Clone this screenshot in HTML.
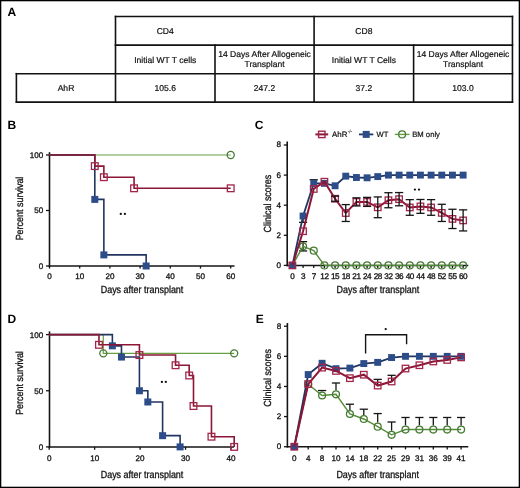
<!DOCTYPE html>
<html><head><meta charset="utf-8"><style>
html,body{margin:0;padding:0;background:#fff;}
svg{display:block;font-family:"Liberation Sans", sans-serif;text-rendering:geometricPrecision;}
.wrap{will-change:transform;width:520px;height:488px;}
</style></head><body>
<div class="wrap"><svg width="520" height="488" viewBox="0 0 520 488">
<rect x="0" y="0" width="520" height="488" fill="#fff"/>
<rect x="0.6" y="0.6" width="518.8" height="486.8" fill="none" stroke="#000" stroke-width="1.4"/>
<text x="7.5" y="15.6" font-size="12" text-anchor="start" font-weight="bold" fill="#000" stroke="#000" stroke-width="0" >A</text>
<line x1="115.5" y1="16.5" x2="512.45" y2="16.5" stroke="#111" stroke-width="1.6" stroke-linecap="square"/>
<line x1="115.5" y1="45.15" x2="512.45" y2="45.15" stroke="#111" stroke-width="1.6" stroke-linecap="square"/>
<line x1="16.4" y1="73.7" x2="512.45" y2="73.7" stroke="#111" stroke-width="1.6" stroke-linecap="square"/>
<line x1="16.4" y1="102.1" x2="512.45" y2="102.1" stroke="#111" stroke-width="1.6" stroke-linecap="square"/>
<line x1="16.4" y1="73.7" x2="16.4" y2="102.1" stroke="#111" stroke-width="1.6" stroke-linecap="square"/>
<line x1="115.5" y1="16.5" x2="115.5" y2="102.1" stroke="#111" stroke-width="1.6" stroke-linecap="square"/>
<line x1="215" y1="45.15" x2="215" y2="102.1" stroke="#111" stroke-width="1.6" stroke-linecap="square"/>
<line x1="314.1" y1="16.5" x2="314.1" y2="102.1" stroke="#111" stroke-width="1.6" stroke-linecap="square"/>
<line x1="413.6" y1="45.15" x2="413.6" y2="102.1" stroke="#111" stroke-width="1.6" stroke-linecap="square"/>
<line x1="512.45" y1="16.5" x2="512.45" y2="102.1" stroke="#111" stroke-width="1.6" stroke-linecap="square"/>
<text x="165.25" y="33.8" font-size="8.55" text-anchor="middle" font-weight="normal" fill="#111" stroke="#111" stroke-width="0.2" >CD4</text>
<text x="363.85" y="33.8" font-size="8.55" text-anchor="middle" font-weight="normal" fill="#111" stroke="#111" stroke-width="0.2" >CD8</text>
<text x="165.25" y="62.6" font-size="8.55" text-anchor="middle" font-weight="normal" fill="#111" stroke="#111" stroke-width="0.2" >Initial WT T cells</text>
<text x="363.85" y="62.6" font-size="8.55" text-anchor="middle" font-weight="normal" fill="#111" stroke="#111" stroke-width="0.2" >Initial WT T Cells</text>
<text x="264.55" y="56.9" font-size="8.55" text-anchor="middle" font-weight="normal" fill="#111" stroke="#111" stroke-width="0.2" >14 Days After Allogeneic</text>
<text x="264.55" y="66.7" font-size="8.55" text-anchor="middle" font-weight="normal" fill="#111" stroke="#111" stroke-width="0.2" >Transplant</text>
<text x="463.02500000000003" y="56.9" font-size="8.55" text-anchor="middle" font-weight="normal" fill="#111" stroke="#111" stroke-width="0.2" >14 Days After Allogeneic</text>
<text x="463.02500000000003" y="66.7" font-size="8.55" text-anchor="middle" font-weight="normal" fill="#111" stroke="#111" stroke-width="0.2" >Transplant</text>
<text x="66" y="91.3" font-size="8.55" text-anchor="middle" font-weight="normal" fill="#111" stroke="#111" stroke-width="0.2" >AhR</text>
<text x="165.25" y="91.3" font-size="8.55" text-anchor="middle" font-weight="normal" fill="#111" stroke="#111" stroke-width="0.2" >105.6</text>
<text x="264.55" y="91.3" font-size="8.55" text-anchor="middle" font-weight="normal" fill="#111" stroke="#111" stroke-width="0.2" >247.2</text>
<text x="363.85" y="91.3" font-size="8.55" text-anchor="middle" font-weight="normal" fill="#111" stroke="#111" stroke-width="0.2" >37.2</text>
<text x="463.02500000000003" y="91.3" font-size="8.55" text-anchor="middle" font-weight="normal" fill="#111" stroke="#111" stroke-width="0.2" >103.0</text>
<text x="7.5" y="128.7" font-size="12" text-anchor="start" font-weight="bold" fill="#000" stroke="#000" stroke-width="0" >B</text>
<line x1="49.5" y1="152.2" x2="49.5" y2="266.8" stroke="#151515" stroke-width="1.6"/>
<line x1="48.7" y1="266" x2="234.5" y2="266" stroke="#151515" stroke-width="1.6"/>
<line x1="46" y1="155.0" x2="49.5" y2="155.0" stroke="#151515" stroke-width="1.3"/>
<text x="43.3" y="157.9" font-size="8.1" text-anchor="end" font-weight="normal" fill="#111" stroke="#111" stroke-width="0.3" >100</text>
<line x1="46" y1="210.5" x2="49.5" y2="210.5" stroke="#151515" stroke-width="1.3"/>
<text x="43.3" y="213.4" font-size="8.1" text-anchor="end" font-weight="normal" fill="#111" stroke="#111" stroke-width="0.3" >50</text>
<line x1="46" y1="266.0" x2="49.5" y2="266.0" stroke="#151515" stroke-width="1.3"/>
<text x="43.3" y="268.9" font-size="8.1" text-anchor="end" font-weight="normal" fill="#111" stroke="#111" stroke-width="0.3" >0</text>
<line x1="49.5" y1="266" x2="49.5" y2="268.6" stroke="#151515" stroke-width="1.3"/>
<text x="49.5" y="279.2" font-size="8.1" text-anchor="middle" font-weight="normal" fill="#111" stroke="#111" stroke-width="0.3" >0</text>
<line x1="79.7" y1="266" x2="79.7" y2="268.6" stroke="#151515" stroke-width="1.3"/>
<text x="79.7" y="279.2" font-size="8.1" text-anchor="middle" font-weight="normal" fill="#111" stroke="#111" stroke-width="0.3" >10</text>
<line x1="109.9" y1="266" x2="109.9" y2="268.6" stroke="#151515" stroke-width="1.3"/>
<text x="109.9" y="279.2" font-size="8.1" text-anchor="middle" font-weight="normal" fill="#111" stroke="#111" stroke-width="0.3" >20</text>
<line x1="140.1" y1="266" x2="140.1" y2="268.6" stroke="#151515" stroke-width="1.3"/>
<text x="140.1" y="279.2" font-size="8.1" text-anchor="middle" font-weight="normal" fill="#111" stroke="#111" stroke-width="0.3" >30</text>
<line x1="170.3" y1="266" x2="170.3" y2="268.6" stroke="#151515" stroke-width="1.3"/>
<text x="170.3" y="279.2" font-size="8.1" text-anchor="middle" font-weight="normal" fill="#111" stroke="#111" stroke-width="0.3" >40</text>
<line x1="200.5" y1="266" x2="200.5" y2="268.6" stroke="#151515" stroke-width="1.3"/>
<text x="200.5" y="279.2" font-size="8.1" text-anchor="middle" font-weight="normal" fill="#111" stroke="#111" stroke-width="0.3" >50</text>
<line x1="230.7" y1="266" x2="230.7" y2="268.6" stroke="#151515" stroke-width="1.3"/>
<text x="230.7" y="279.2" font-size="8.1" text-anchor="middle" font-weight="normal" fill="#111" stroke="#111" stroke-width="0.3" >60</text>
<text x="0" y="0" font-size="10.3" text-anchor="middle" fill="#111" stroke="#111" stroke-width="0.3" transform="translate(142,293.2) scale(0.87,1)">Days after transplant</text>
<text x="0" y="0" font-size="10.3" text-anchor="middle" fill="#111" stroke="#111" stroke-width="0.3" transform="translate(23.3,208.5) rotate(-90) scale(0.87,1)">Percent survival</text>
<polyline points="49.50,155.00 230.70,155.00" fill="none" stroke="#66a040" stroke-width="1.2" stroke-linejoin="miter"/>
<circle cx="230.70" cy="155.00" r="3.55" fill="none" stroke="#457a32" stroke-width="1.3"/>
<polyline points="49.50,155.00 94.80,155.00 94.80,199.40 103.86,199.40 103.86,254.90 146.14,254.90 146.14,266.00" fill="none" stroke="#203560" stroke-width="1.6" stroke-linejoin="miter"/>
<rect x="91.30" y="195.90" width="7" height="7" fill="#2d4d8a"/>
<rect x="100.36" y="251.40" width="7" height="7" fill="#2d4d8a"/>
<rect x="142.64" y="262.50" width="7" height="7" fill="#2d4d8a"/>
<polyline points="49.50,155.00 94.80,155.00 94.80,166.10 103.86,166.10 103.86,177.20 134.06,177.20 134.06,188.30 230.70,188.30" fill="none" stroke="#8c1636" stroke-width="1.6" stroke-linejoin="miter"/>
<rect x="91.45" y="162.75" width="6.70" height="6.70" fill="none" stroke="#a2264a" stroke-width="1.3"/>
<rect x="100.51" y="173.85" width="6.70" height="6.70" fill="none" stroke="#a2264a" stroke-width="1.3"/>
<rect x="130.71" y="184.95" width="6.70" height="6.70" fill="none" stroke="#a2264a" stroke-width="1.3"/>
<rect x="227.35" y="184.95" width="6.70" height="6.70" fill="none" stroke="#a2264a" stroke-width="1.3"/>
<circle cx="120.8" cy="213.9" r="1.15" fill="#111"/>
<circle cx="124.9" cy="213.9" r="1.15" fill="#111"/>
<text x="254.8" y="128.7" font-size="12" text-anchor="start" font-weight="bold" fill="#000" stroke="#000" stroke-width="0" >C</text>
<line x1="287.2" y1="141.5" x2="287.2" y2="266.2" stroke="#151515" stroke-width="1.6"/>
<line x1="286.4" y1="265.5" x2="468.3" y2="265.5" stroke="#151515" stroke-width="1.6"/>
<line x1="283.8" y1="265.4" x2="287.2" y2="265.4" stroke="#151515" stroke-width="1.3"/>
<text x="281" y="267.79999999999995" font-size="8.1" text-anchor="end" font-weight="normal" fill="#111" stroke="#111" stroke-width="0.3" >0</text>
<line x1="283.8" y1="235.29999999999998" x2="287.2" y2="235.29999999999998" stroke="#151515" stroke-width="1.3"/>
<text x="281" y="237.7" font-size="8.1" text-anchor="end" font-weight="normal" fill="#111" stroke="#111" stroke-width="0.3" >2</text>
<line x1="283.8" y1="205.2" x2="287.2" y2="205.2" stroke="#151515" stroke-width="1.3"/>
<text x="281" y="207.6" font-size="8.1" text-anchor="end" font-weight="normal" fill="#111" stroke="#111" stroke-width="0.3" >4</text>
<line x1="283.8" y1="175.09999999999997" x2="287.2" y2="175.09999999999997" stroke="#151515" stroke-width="1.3"/>
<text x="281" y="177.49999999999997" font-size="8.1" text-anchor="end" font-weight="normal" fill="#111" stroke="#111" stroke-width="0.3" >6</text>
<line x1="283.8" y1="144.99999999999997" x2="287.2" y2="144.99999999999997" stroke="#151515" stroke-width="1.3"/>
<text x="281" y="147.39999999999998" font-size="8.1" text-anchor="end" font-weight="normal" fill="#111" stroke="#111" stroke-width="0.3" >8</text>
<line x1="292.4" y1="265.4" x2="292.4" y2="268" stroke="#151515" stroke-width="1.3"/>
<text x="292.4" y="279.2" font-size="8.2" text-anchor="middle" font-weight="normal" fill="#111" stroke="#111" stroke-width="0.3" letter-spacing="-0.45">0</text>
<line x1="303.07" y1="265.4" x2="303.07" y2="268" stroke="#151515" stroke-width="1.3"/>
<text x="303.07" y="279.2" font-size="8.2" text-anchor="middle" font-weight="normal" fill="#111" stroke="#111" stroke-width="0.3" letter-spacing="-0.45">3</text>
<line x1="313.73999999999995" y1="265.4" x2="313.73999999999995" y2="268" stroke="#151515" stroke-width="1.3"/>
<text x="313.73999999999995" y="279.2" font-size="8.2" text-anchor="middle" font-weight="normal" fill="#111" stroke="#111" stroke-width="0.3" letter-spacing="-0.45">7</text>
<line x1="324.40999999999997" y1="265.4" x2="324.40999999999997" y2="268" stroke="#151515" stroke-width="1.3"/>
<text x="324.40999999999997" y="279.2" font-size="8.2" text-anchor="middle" font-weight="normal" fill="#111" stroke="#111" stroke-width="0.3" letter-spacing="-0.45">12</text>
<line x1="335.08" y1="265.4" x2="335.08" y2="268" stroke="#151515" stroke-width="1.3"/>
<text x="335.08" y="279.2" font-size="8.2" text-anchor="middle" font-weight="normal" fill="#111" stroke="#111" stroke-width="0.3" letter-spacing="-0.45">15</text>
<line x1="345.75" y1="265.4" x2="345.75" y2="268" stroke="#151515" stroke-width="1.3"/>
<text x="345.75" y="279.2" font-size="8.2" text-anchor="middle" font-weight="normal" fill="#111" stroke="#111" stroke-width="0.3" letter-spacing="-0.45">18</text>
<line x1="356.41999999999996" y1="265.4" x2="356.41999999999996" y2="268" stroke="#151515" stroke-width="1.3"/>
<text x="356.41999999999996" y="279.2" font-size="8.2" text-anchor="middle" font-weight="normal" fill="#111" stroke="#111" stroke-width="0.3" letter-spacing="-0.45">21</text>
<line x1="367.09" y1="265.4" x2="367.09" y2="268" stroke="#151515" stroke-width="1.3"/>
<text x="367.09" y="279.2" font-size="8.2" text-anchor="middle" font-weight="normal" fill="#111" stroke="#111" stroke-width="0.3" letter-spacing="-0.45">24</text>
<line x1="377.76" y1="265.4" x2="377.76" y2="268" stroke="#151515" stroke-width="1.3"/>
<text x="377.76" y="279.2" font-size="8.2" text-anchor="middle" font-weight="normal" fill="#111" stroke="#111" stroke-width="0.3" letter-spacing="-0.45">28</text>
<line x1="388.42999999999995" y1="265.4" x2="388.42999999999995" y2="268" stroke="#151515" stroke-width="1.3"/>
<text x="388.42999999999995" y="279.2" font-size="8.2" text-anchor="middle" font-weight="normal" fill="#111" stroke="#111" stroke-width="0.3" letter-spacing="-0.45">32</text>
<line x1="399.09999999999997" y1="265.4" x2="399.09999999999997" y2="268" stroke="#151515" stroke-width="1.3"/>
<text x="399.09999999999997" y="279.2" font-size="8.2" text-anchor="middle" font-weight="normal" fill="#111" stroke="#111" stroke-width="0.3" letter-spacing="-0.45">36</text>
<line x1="409.77" y1="265.4" x2="409.77" y2="268" stroke="#151515" stroke-width="1.3"/>
<text x="409.77" y="279.2" font-size="8.2" text-anchor="middle" font-weight="normal" fill="#111" stroke="#111" stroke-width="0.3" letter-spacing="-0.45">40</text>
<line x1="420.43999999999994" y1="265.4" x2="420.43999999999994" y2="268" stroke="#151515" stroke-width="1.3"/>
<text x="420.43999999999994" y="279.2" font-size="8.2" text-anchor="middle" font-weight="normal" fill="#111" stroke="#111" stroke-width="0.3" letter-spacing="-0.45">44</text>
<line x1="431.11" y1="265.4" x2="431.11" y2="268" stroke="#151515" stroke-width="1.3"/>
<text x="431.11" y="279.2" font-size="8.2" text-anchor="middle" font-weight="normal" fill="#111" stroke="#111" stroke-width="0.3" letter-spacing="-0.45">48</text>
<line x1="441.78" y1="265.4" x2="441.78" y2="268" stroke="#151515" stroke-width="1.3"/>
<text x="441.78" y="279.2" font-size="8.2" text-anchor="middle" font-weight="normal" fill="#111" stroke="#111" stroke-width="0.3" letter-spacing="-0.45">52</text>
<line x1="452.45" y1="265.4" x2="452.45" y2="268" stroke="#151515" stroke-width="1.3"/>
<text x="452.45" y="279.2" font-size="8.2" text-anchor="middle" font-weight="normal" fill="#111" stroke="#111" stroke-width="0.3" letter-spacing="-0.45">55</text>
<line x1="463.12" y1="265.4" x2="463.12" y2="268" stroke="#151515" stroke-width="1.3"/>
<text x="463.12" y="279.2" font-size="8.2" text-anchor="middle" font-weight="normal" fill="#111" stroke="#111" stroke-width="0.3" letter-spacing="-0.45">60</text>
<text x="0" y="0" font-size="10.3" text-anchor="middle" fill="#111" stroke="#111" stroke-width="0.3" transform="translate(377.8,293.2) scale(0.87,1)">Days after transplant</text>
<text x="0" y="0" font-size="10.3" text-anchor="middle" fill="#111" stroke="#111" stroke-width="0.3" transform="translate(270.6,203.6) rotate(-90) scale(0.87,1)">Clinical scores</text>
<line x1="315.4" y1="134.4" x2="328.2" y2="134.4" stroke="#8c1636" stroke-width="2"/>
<rect x="318.60" y="131.20" width="6.40" height="6.40" fill="none" stroke="#a2264a" stroke-width="1.4"/>
<text x="332" y="137" font-size="7.9" text-anchor="start" font-weight="normal" fill="#111" stroke="#111" stroke-width="0.2" >AhR</text>
<text x="347.8" y="133.2" font-size="4.6" text-anchor="start" font-weight="normal" fill="#555" stroke="#555" stroke-width="0.2" >-/-</text>
<line x1="359" y1="134.4" x2="373.3" y2="134.4" stroke="#203560" stroke-width="1.8"/>
<rect x="362.70" y="130.90" width="7" height="7" fill="#2d4d8a"/>
<text x="376.6" y="137" font-size="7.6" text-anchor="start" font-weight="normal" fill="#111" stroke="#111" stroke-width="0.2" >WT</text>
<line x1="394.8" y1="134.4" x2="409.5" y2="134.4" stroke="#66a040" stroke-width="1.4"/>
<circle cx="402.10" cy="134.40" r="3.45" fill="none" stroke="#457a32" stroke-width="1.3"/>
<text x="412.2" y="137" font-size="7.7" text-anchor="start" font-weight="normal" fill="#111" stroke="#111" stroke-width="0.2" >BM only</text>
<line x1="303.07" y1="241.62099999999998" x2="303.07" y2="250.952" stroke="#151515" stroke-width="1.3"/>
<line x1="298.96999999999997" y1="241.62099999999998" x2="307.17" y2="241.62099999999998" stroke="#151515" stroke-width="1.3"/>
<line x1="298.96999999999997" y1="250.952" x2="307.17" y2="250.952" stroke="#151515" stroke-width="1.3"/>
<polyline points="292.40,265.40 303.07,246.29 313.74,250.65 324.41,265.40 335.08,265.40 345.75,265.40 356.42,265.40 367.09,265.40 377.76,265.40 388.43,265.40 399.10,265.40 409.77,265.40 420.44,265.40 431.11,265.40 441.78,265.40 452.45,265.40 463.12,265.40" fill="none" stroke="#548c38" stroke-width="1.4" stroke-linejoin="miter"/>
<circle cx="303.07" cy="246.29" r="3.45" fill="none" stroke="#457a32" stroke-width="1.3"/>
<circle cx="313.74" cy="250.65" r="3.45" fill="none" stroke="#457a32" stroke-width="1.3"/>
<circle cx="324.41" cy="265.40" r="3.45" fill="none" stroke="#457a32" stroke-width="1.3"/>
<circle cx="335.08" cy="265.40" r="3.45" fill="none" stroke="#457a32" stroke-width="1.3"/>
<circle cx="345.75" cy="265.40" r="3.45" fill="none" stroke="#457a32" stroke-width="1.3"/>
<circle cx="356.42" cy="265.40" r="3.45" fill="none" stroke="#457a32" stroke-width="1.3"/>
<circle cx="367.09" cy="265.40" r="3.45" fill="none" stroke="#457a32" stroke-width="1.3"/>
<circle cx="377.76" cy="265.40" r="3.45" fill="none" stroke="#457a32" stroke-width="1.3"/>
<circle cx="388.43" cy="265.40" r="3.45" fill="none" stroke="#457a32" stroke-width="1.3"/>
<circle cx="399.10" cy="265.40" r="3.45" fill="none" stroke="#457a32" stroke-width="1.3"/>
<circle cx="409.77" cy="265.40" r="3.45" fill="none" stroke="#457a32" stroke-width="1.3"/>
<circle cx="420.44" cy="265.40" r="3.45" fill="none" stroke="#457a32" stroke-width="1.3"/>
<circle cx="431.11" cy="265.40" r="3.45" fill="none" stroke="#457a32" stroke-width="1.3"/>
<circle cx="441.78" cy="265.40" r="3.45" fill="none" stroke="#457a32" stroke-width="1.3"/>
<circle cx="452.45" cy="265.40" r="3.45" fill="none" stroke="#457a32" stroke-width="1.3"/>
<circle cx="463.12" cy="265.40" r="3.45" fill="none" stroke="#457a32" stroke-width="1.3"/>
<line x1="303.07" y1="216.03599999999997" x2="303.07" y2="222.35699999999997" stroke="#151515" stroke-width="1.3"/>
<line x1="298.96999999999997" y1="222.35699999999997" x2="307.17" y2="222.35699999999997" stroke="#151515" stroke-width="1.3"/>
<line x1="313.73999999999995" y1="179.76549999999997" x2="313.73999999999995" y2="183.37749999999997" stroke="#151515" stroke-width="1.3"/>
<line x1="309.63999999999993" y1="179.76549999999997" x2="317.84" y2="179.76549999999997" stroke="#151515" stroke-width="1.3"/>
<polyline points="292.40,265.40 303.07,216.04 313.74,183.38 324.41,183.38 335.08,185.79 345.75,176.15 356.42,177.51 367.09,177.81 377.76,176.60 388.43,175.10 399.10,175.10 409.77,175.10 420.44,175.10 431.11,175.10 441.78,175.10 452.45,175.10 463.12,175.10" fill="none" stroke="#203560" stroke-width="1.8" stroke-linejoin="miter"/>
<rect x="288.95" y="261.95" width="6.9" height="6.9" fill="#2d4d8a"/>
<rect x="299.62" y="212.59" width="6.9" height="6.9" fill="#2d4d8a"/>
<rect x="310.29" y="179.93" width="6.9" height="6.9" fill="#2d4d8a"/>
<rect x="320.96" y="179.93" width="6.9" height="6.9" fill="#2d4d8a"/>
<rect x="331.63" y="182.34" width="6.9" height="6.9" fill="#2d4d8a"/>
<rect x="342.30" y="172.70" width="6.9" height="6.9" fill="#2d4d8a"/>
<rect x="352.97" y="174.06" width="6.9" height="6.9" fill="#2d4d8a"/>
<rect x="363.64" y="174.36" width="6.9" height="6.9" fill="#2d4d8a"/>
<rect x="374.31" y="173.15" width="6.9" height="6.9" fill="#2d4d8a"/>
<rect x="384.98" y="171.65" width="6.9" height="6.9" fill="#2d4d8a"/>
<rect x="395.65" y="171.65" width="6.9" height="6.9" fill="#2d4d8a"/>
<rect x="406.32" y="171.65" width="6.9" height="6.9" fill="#2d4d8a"/>
<rect x="416.99" y="171.65" width="6.9" height="6.9" fill="#2d4d8a"/>
<rect x="427.66" y="171.65" width="6.9" height="6.9" fill="#2d4d8a"/>
<rect x="438.33" y="171.65" width="6.9" height="6.9" fill="#2d4d8a"/>
<rect x="449.00" y="171.65" width="6.9" height="6.9" fill="#2d4d8a"/>
<rect x="459.67" y="171.65" width="6.9" height="6.9" fill="#2d4d8a"/>
<polyline points="292.40,265.40 303.07,231.24 313.74,188.95 324.41,181.72 335.08,198.73 345.75,213.03 356.42,201.89 367.09,201.89 377.76,207.31 388.43,200.23 399.10,199.18 409.77,207.46 420.44,206.40 431.11,207.46 441.78,212.88 452.45,218.90 463.12,220.40" fill="none" stroke="#8c1636" stroke-width="2" stroke-linejoin="miter"/>
<rect x="289.15" y="262.15" width="6.50" height="6.50" fill="none" stroke="#a2264a" stroke-width="1.3"/>
<rect x="299.82" y="227.99" width="6.50" height="6.50" fill="none" stroke="#a2264a" stroke-width="1.3"/>
<rect x="310.49" y="185.70" width="6.50" height="6.50" fill="none" stroke="#a2264a" stroke-width="1.3"/>
<rect x="321.16" y="178.47" width="6.50" height="6.50" fill="none" stroke="#a2264a" stroke-width="1.3"/>
<rect x="331.83" y="195.48" width="6.50" height="6.50" fill="none" stroke="#a2264a" stroke-width="1.3"/>
<rect x="342.50" y="209.78" width="6.50" height="6.50" fill="none" stroke="#a2264a" stroke-width="1.3"/>
<rect x="353.17" y="198.64" width="6.50" height="6.50" fill="none" stroke="#a2264a" stroke-width="1.3"/>
<rect x="363.84" y="198.64" width="6.50" height="6.50" fill="none" stroke="#a2264a" stroke-width="1.3"/>
<rect x="374.51" y="204.06" width="6.50" height="6.50" fill="none" stroke="#a2264a" stroke-width="1.3"/>
<rect x="385.18" y="196.98" width="6.50" height="6.50" fill="none" stroke="#a2264a" stroke-width="1.3"/>
<rect x="395.85" y="195.93" width="6.50" height="6.50" fill="none" stroke="#a2264a" stroke-width="1.3"/>
<rect x="406.52" y="204.21" width="6.50" height="6.50" fill="none" stroke="#a2264a" stroke-width="1.3"/>
<rect x="417.19" y="203.15" width="6.50" height="6.50" fill="none" stroke="#a2264a" stroke-width="1.3"/>
<rect x="427.86" y="204.21" width="6.50" height="6.50" fill="none" stroke="#a2264a" stroke-width="1.3"/>
<rect x="438.53" y="209.63" width="6.50" height="6.50" fill="none" stroke="#a2264a" stroke-width="1.3"/>
<rect x="449.20" y="215.65" width="6.50" height="6.50" fill="none" stroke="#a2264a" stroke-width="1.3"/>
<rect x="459.87" y="217.15" width="6.50" height="6.50" fill="none" stroke="#a2264a" stroke-width="1.3"/>
<line x1="335.08" y1="196.17" x2="335.08" y2="201.287" stroke="#151515" stroke-width="1.3"/>
<line x1="330.97999999999996" y1="196.17" x2="339.18" y2="196.17" stroke="#151515" stroke-width="1.3"/>
<line x1="330.97999999999996" y1="201.287" x2="339.18" y2="201.287" stroke="#151515" stroke-width="1.3"/>
<line x1="345.75" y1="204.59799999999998" x2="345.75" y2="221.45399999999998" stroke="#151515" stroke-width="1.3"/>
<line x1="341.65" y1="204.59799999999998" x2="349.85" y2="204.59799999999998" stroke="#151515" stroke-width="1.3"/>
<line x1="341.65" y1="221.45399999999998" x2="349.85" y2="221.45399999999998" stroke="#151515" stroke-width="1.3"/>
<line x1="356.41999999999996" y1="197.82549999999998" x2="356.41999999999996" y2="205.9525" stroke="#151515" stroke-width="1.3"/>
<line x1="352.31999999999994" y1="197.82549999999998" x2="360.52" y2="197.82549999999998" stroke="#151515" stroke-width="1.3"/>
<line x1="352.31999999999994" y1="205.9525" x2="360.52" y2="205.9525" stroke="#151515" stroke-width="1.3"/>
<line x1="367.09" y1="197.374" x2="367.09" y2="206.40399999999997" stroke="#151515" stroke-width="1.3"/>
<line x1="362.98999999999995" y1="197.374" x2="371.19" y2="197.374" stroke="#151515" stroke-width="1.3"/>
<line x1="362.98999999999995" y1="206.40399999999997" x2="371.19" y2="206.40399999999997" stroke="#151515" stroke-width="1.3"/>
<line x1="377.76" y1="196.92249999999996" x2="377.76" y2="217.69149999999996" stroke="#151515" stroke-width="1.3"/>
<line x1="373.65999999999997" y1="196.92249999999996" x2="381.86" y2="196.92249999999996" stroke="#151515" stroke-width="1.3"/>
<line x1="373.65999999999997" y1="217.69149999999996" x2="381.86" y2="217.69149999999996" stroke="#151515" stroke-width="1.3"/>
<line x1="388.42999999999995" y1="192.7085" x2="388.42999999999995" y2="207.7585" stroke="#151515" stroke-width="1.3"/>
<line x1="384.3299999999999" y1="192.7085" x2="392.53" y2="192.7085" stroke="#151515" stroke-width="1.3"/>
<line x1="384.3299999999999" y1="207.7585" x2="392.53" y2="207.7585" stroke="#151515" stroke-width="1.3"/>
<line x1="399.09999999999997" y1="192.55799999999994" x2="399.09999999999997" y2="205.80199999999996" stroke="#151515" stroke-width="1.3"/>
<line x1="394.99999999999994" y1="192.55799999999994" x2="403.2" y2="192.55799999999994" stroke="#151515" stroke-width="1.3"/>
<line x1="394.99999999999994" y1="205.80199999999996" x2="403.2" y2="205.80199999999996" stroke="#151515" stroke-width="1.3"/>
<line x1="409.77" y1="199.6315" x2="409.77" y2="215.28349999999998" stroke="#151515" stroke-width="1.3"/>
<line x1="405.66999999999996" y1="199.6315" x2="413.87" y2="199.6315" stroke="#151515" stroke-width="1.3"/>
<line x1="405.66999999999996" y1="215.28349999999998" x2="413.87" y2="215.28349999999998" stroke="#151515" stroke-width="1.3"/>
<line x1="420.43999999999994" y1="199.48099999999997" x2="420.43999999999994" y2="213.32699999999997" stroke="#151515" stroke-width="1.3"/>
<line x1="416.3399999999999" y1="199.48099999999997" x2="424.53999999999996" y2="199.48099999999997" stroke="#151515" stroke-width="1.3"/>
<line x1="416.3399999999999" y1="213.32699999999997" x2="424.53999999999996" y2="213.32699999999997" stroke="#151515" stroke-width="1.3"/>
<line x1="431.11" y1="199.6315" x2="431.11" y2="215.28349999999998" stroke="#151515" stroke-width="1.3"/>
<line x1="427.01" y1="199.6315" x2="435.21000000000004" y2="199.6315" stroke="#151515" stroke-width="1.3"/>
<line x1="427.01" y1="215.28349999999998" x2="435.21000000000004" y2="215.28349999999998" stroke="#151515" stroke-width="1.3"/>
<line x1="441.78" y1="204.297" x2="441.78" y2="221.45399999999998" stroke="#151515" stroke-width="1.3"/>
<line x1="437.67999999999995" y1="204.297" x2="445.88" y2="204.297" stroke="#151515" stroke-width="1.3"/>
<line x1="437.67999999999995" y1="221.45399999999998" x2="445.88" y2="221.45399999999998" stroke="#151515" stroke-width="1.3"/>
<line x1="452.45" y1="209.26349999999996" x2="452.45" y2="228.52749999999997" stroke="#151515" stroke-width="1.3"/>
<line x1="448.34999999999997" y1="209.26349999999996" x2="456.55" y2="209.26349999999996" stroke="#151515" stroke-width="1.3"/>
<line x1="448.34999999999997" y1="228.52749999999997" x2="456.55" y2="228.52749999999997" stroke="#151515" stroke-width="1.3"/>
<line x1="463.12" y1="209.86549999999997" x2="463.12" y2="230.93549999999996" stroke="#151515" stroke-width="1.3"/>
<line x1="459.02" y1="209.86549999999997" x2="467.22" y2="209.86549999999997" stroke="#151515" stroke-width="1.3"/>
<line x1="459.02" y1="230.93549999999996" x2="467.22" y2="230.93549999999996" stroke="#151515" stroke-width="1.3"/>
<circle cx="414.9" cy="189.6" r="1.15" fill="#111"/>
<circle cx="419" cy="189.6" r="1.15" fill="#111"/>
<text x="7.5" y="323" font-size="12" text-anchor="start" font-weight="bold" fill="#000" stroke="#000" stroke-width="0" >D</text>
<line x1="49.5" y1="331.4" x2="49.5" y2="447.8" stroke="#151515" stroke-width="1.6"/>
<line x1="48.7" y1="447" x2="234" y2="447" stroke="#151515" stroke-width="1.6"/>
<line x1="46" y1="334.59999999999997" x2="49.5" y2="334.59999999999997" stroke="#151515" stroke-width="1.3"/>
<text x="43.3" y="337.59999999999997" font-size="8.1" text-anchor="end" font-weight="normal" fill="#111" stroke="#111" stroke-width="0.3" >100</text>
<line x1="46" y1="390.75" x2="49.5" y2="390.75" stroke="#151515" stroke-width="1.3"/>
<text x="43.3" y="393.75" font-size="8.1" text-anchor="end" font-weight="normal" fill="#111" stroke="#111" stroke-width="0.3" >50</text>
<line x1="46" y1="446.9" x2="49.5" y2="446.9" stroke="#151515" stroke-width="1.3"/>
<text x="43.3" y="449.9" font-size="8.1" text-anchor="end" font-weight="normal" fill="#111" stroke="#111" stroke-width="0.3" >0</text>
<line x1="49.2" y1="447" x2="49.2" y2="449.8" stroke="#151515" stroke-width="1.3"/>
<text x="49.2" y="461" font-size="8.1" text-anchor="middle" font-weight="normal" fill="#111" stroke="#111" stroke-width="0.3" >0</text>
<line x1="94.65" y1="447" x2="94.65" y2="449.8" stroke="#151515" stroke-width="1.3"/>
<text x="94.65" y="461" font-size="8.1" text-anchor="middle" font-weight="normal" fill="#111" stroke="#111" stroke-width="0.3" >10</text>
<line x1="140.10000000000002" y1="447" x2="140.10000000000002" y2="449.8" stroke="#151515" stroke-width="1.3"/>
<text x="140.10000000000002" y="461" font-size="8.1" text-anchor="middle" font-weight="normal" fill="#111" stroke="#111" stroke-width="0.3" >20</text>
<line x1="185.55" y1="447" x2="185.55" y2="449.8" stroke="#151515" stroke-width="1.3"/>
<text x="185.55" y="461" font-size="8.1" text-anchor="middle" font-weight="normal" fill="#111" stroke="#111" stroke-width="0.3" >30</text>
<line x1="231.0" y1="447" x2="231.0" y2="449.8" stroke="#151515" stroke-width="1.3"/>
<text x="231.0" y="461" font-size="8.1" text-anchor="middle" font-weight="normal" fill="#111" stroke="#111" stroke-width="0.3" >40</text>
<text x="0" y="0" font-size="10.3" text-anchor="middle" fill="#111" stroke="#111" stroke-width="0.3" transform="translate(142,477.9) scale(0.87,1)">Days after transplant</text>
<text x="0" y="0" font-size="10.3" text-anchor="middle" fill="#111" stroke="#111" stroke-width="0.3" transform="translate(23.3,383) rotate(-90) scale(0.87,1)">Percent survival</text>
<polyline points="49.20,334.60 103.29,334.60 103.29,353.35 234.18,353.35" fill="none" stroke="#66a040" stroke-width="1.2" stroke-linejoin="miter"/>
<circle cx="103.29" cy="353.35" r="3.55" fill="none" stroke="#457a32" stroke-width="1.3"/>
<circle cx="234.18" cy="353.35" r="3.55" fill="none" stroke="#457a32" stroke-width="1.3"/>
<polyline points="49.20,334.60 112.38,334.60 112.38,345.83 121.47,345.83 121.47,357.06 139.42,357.06 139.42,390.75 147.83,390.75 147.83,401.98 162.60,401.98 162.60,435.67 180.10,435.67 180.10,446.90" fill="none" stroke="#203560" stroke-width="1.6" stroke-linejoin="miter"/>
<rect x="108.88" y="342.33" width="7" height="7" fill="#2d4d8a"/>
<rect x="117.97" y="353.56" width="7" height="7" fill="#2d4d8a"/>
<rect x="135.92" y="387.25" width="7" height="7" fill="#2d4d8a"/>
<rect x="144.33" y="398.48" width="7" height="7" fill="#2d4d8a"/>
<rect x="159.10" y="432.17" width="7" height="7" fill="#2d4d8a"/>
<rect x="176.60" y="443.40" width="7" height="7" fill="#2d4d8a"/>
<polyline points="49.20,334.60 98.97,334.60 98.97,344.82 139.42,344.82 139.42,355.04 175.55,355.04 175.55,365.26 189.19,365.26 189.19,375.48 193.50,375.48 193.50,406.02 211.46,406.02 211.46,436.68 234.18,436.68 234.18,446.90" fill="none" stroke="#8c1636" stroke-width="1.6" stroke-linejoin="miter"/>
<rect x="95.62" y="341.47" width="6.70" height="6.70" fill="none" stroke="#a2264a" stroke-width="1.3"/>
<rect x="136.07" y="351.69" width="6.70" height="6.70" fill="none" stroke="#a2264a" stroke-width="1.3"/>
<rect x="172.20" y="361.91" width="6.70" height="6.70" fill="none" stroke="#a2264a" stroke-width="1.3"/>
<rect x="185.84" y="372.13" width="6.70" height="6.70" fill="none" stroke="#a2264a" stroke-width="1.3"/>
<rect x="190.15" y="402.67" width="6.70" height="6.70" fill="none" stroke="#a2264a" stroke-width="1.3"/>
<rect x="208.11" y="433.33" width="6.70" height="6.70" fill="none" stroke="#a2264a" stroke-width="1.3"/>
<rect x="230.83" y="443.55" width="6.70" height="6.70" fill="none" stroke="#a2264a" stroke-width="1.3"/>
<circle cx="161.9" cy="381.9" r="1.15" fill="#111"/>
<circle cx="165.8" cy="381.9" r="1.15" fill="#111"/>
<text x="255.7" y="322.7" font-size="12" text-anchor="start" font-weight="bold" fill="#000" stroke="#000" stroke-width="0" >E</text>
<line x1="287.4" y1="323" x2="287.4" y2="447.5" stroke="#151515" stroke-width="1.6"/>
<line x1="286.6" y1="446.8" x2="468.3" y2="446.8" stroke="#151515" stroke-width="1.6"/>
<line x1="284" y1="446.7" x2="287.4" y2="446.7" stroke="#151515" stroke-width="1.3"/>
<text x="281.2" y="449.09999999999997" font-size="8.1" text-anchor="end" font-weight="normal" fill="#111" stroke="#111" stroke-width="0.3" >0</text>
<line x1="284" y1="416.58" x2="287.4" y2="416.58" stroke="#151515" stroke-width="1.3"/>
<text x="281.2" y="418.97999999999996" font-size="8.1" text-anchor="end" font-weight="normal" fill="#111" stroke="#111" stroke-width="0.3" >2</text>
<line x1="284" y1="386.46" x2="287.4" y2="386.46" stroke="#151515" stroke-width="1.3"/>
<text x="281.2" y="388.85999999999996" font-size="8.1" text-anchor="end" font-weight="normal" fill="#111" stroke="#111" stroke-width="0.3" >4</text>
<line x1="284" y1="356.34" x2="287.4" y2="356.34" stroke="#151515" stroke-width="1.3"/>
<text x="281.2" y="358.73999999999995" font-size="8.1" text-anchor="end" font-weight="normal" fill="#111" stroke="#111" stroke-width="0.3" >6</text>
<line x1="284" y1="326.21999999999997" x2="287.4" y2="326.21999999999997" stroke="#151515" stroke-width="1.3"/>
<text x="281.2" y="328.61999999999995" font-size="8.1" text-anchor="end" font-weight="normal" fill="#111" stroke="#111" stroke-width="0.3" >8</text>
<line x1="294.3" y1="446.7" x2="294.3" y2="449.4" stroke="#151515" stroke-width="1.3"/>
<text x="294.3" y="461" font-size="8.1" text-anchor="middle" font-weight="normal" fill="#111" stroke="#111" stroke-width="0.3" >0</text>
<line x1="308.2" y1="446.7" x2="308.2" y2="449.4" stroke="#151515" stroke-width="1.3"/>
<text x="308.2" y="461" font-size="8.1" text-anchor="middle" font-weight="normal" fill="#111" stroke="#111" stroke-width="0.3" >4</text>
<line x1="322.1" y1="446.7" x2="322.1" y2="449.4" stroke="#151515" stroke-width="1.3"/>
<text x="322.1" y="461" font-size="8.1" text-anchor="middle" font-weight="normal" fill="#111" stroke="#111" stroke-width="0.3" >8</text>
<line x1="336.0" y1="446.7" x2="336.0" y2="449.4" stroke="#151515" stroke-width="1.3"/>
<text x="336.0" y="461" font-size="8.1" text-anchor="middle" font-weight="normal" fill="#111" stroke="#111" stroke-width="0.3" >10</text>
<line x1="349.90000000000003" y1="446.7" x2="349.90000000000003" y2="449.4" stroke="#151515" stroke-width="1.3"/>
<text x="349.90000000000003" y="461" font-size="8.1" text-anchor="middle" font-weight="normal" fill="#111" stroke="#111" stroke-width="0.3" >14</text>
<line x1="363.8" y1="446.7" x2="363.8" y2="449.4" stroke="#151515" stroke-width="1.3"/>
<text x="363.8" y="461" font-size="8.1" text-anchor="middle" font-weight="normal" fill="#111" stroke="#111" stroke-width="0.3" >18</text>
<line x1="377.70000000000005" y1="446.7" x2="377.70000000000005" y2="449.4" stroke="#151515" stroke-width="1.3"/>
<text x="377.70000000000005" y="461" font-size="8.1" text-anchor="middle" font-weight="normal" fill="#111" stroke="#111" stroke-width="0.3" >22</text>
<line x1="391.6" y1="446.7" x2="391.6" y2="449.4" stroke="#151515" stroke-width="1.3"/>
<text x="391.6" y="461" font-size="8.1" text-anchor="middle" font-weight="normal" fill="#111" stroke="#111" stroke-width="0.3" >25</text>
<line x1="405.5" y1="446.7" x2="405.5" y2="449.4" stroke="#151515" stroke-width="1.3"/>
<text x="405.5" y="461" font-size="8.1" text-anchor="middle" font-weight="normal" fill="#111" stroke="#111" stroke-width="0.3" >29</text>
<line x1="419.40000000000003" y1="446.7" x2="419.40000000000003" y2="449.4" stroke="#151515" stroke-width="1.3"/>
<text x="419.40000000000003" y="461" font-size="8.1" text-anchor="middle" font-weight="normal" fill="#111" stroke="#111" stroke-width="0.3" >31</text>
<line x1="433.3" y1="446.7" x2="433.3" y2="449.4" stroke="#151515" stroke-width="1.3"/>
<text x="433.3" y="461" font-size="8.1" text-anchor="middle" font-weight="normal" fill="#111" stroke="#111" stroke-width="0.3" >36</text>
<line x1="447.20000000000005" y1="446.7" x2="447.20000000000005" y2="449.4" stroke="#151515" stroke-width="1.3"/>
<text x="447.20000000000005" y="461" font-size="8.1" text-anchor="middle" font-weight="normal" fill="#111" stroke="#111" stroke-width="0.3" >39</text>
<line x1="461.1" y1="446.7" x2="461.1" y2="449.4" stroke="#151515" stroke-width="1.3"/>
<text x="461.1" y="461" font-size="8.1" text-anchor="middle" font-weight="normal" fill="#111" stroke="#111" stroke-width="0.3" >41</text>
<text x="0" y="0" font-size="10.3" text-anchor="middle" fill="#111" stroke="#111" stroke-width="0.3" transform="translate(377.7,477.9) scale(0.87,1)">Days after transplant</text>
<text x="0" y="0" font-size="10.3" text-anchor="middle" fill="#111" stroke="#111" stroke-width="0.3" transform="translate(270.6,378) rotate(-90) scale(0.87,1)">Clinical scores</text>
<polyline points="365.60,353.40 365.60,334.80 406.60,334.80 406.60,344.20" fill="none" stroke="#151515" stroke-width="1.4" stroke-linejoin="miter"/>
<circle cx="385.7" cy="329.1" r="1.15" fill="#111"/>
<line x1="322.1" y1="391.39599999999996" x2="322.1" y2="390.52619999999996" stroke="#151515" stroke-width="1.3"/>
<line x1="318.0" y1="390.52619999999996" x2="326.20000000000005" y2="390.52619999999996" stroke="#151515" stroke-width="1.3"/>
<line x1="336.0" y1="390.1912" x2="336.0" y2="382.9962" stroke="#151515" stroke-width="1.3"/>
<line x1="331.9" y1="382.9962" x2="340.1" y2="382.9962" stroke="#151515" stroke-width="1.3"/>
<line x1="349.90000000000003" y1="409.91979999999995" x2="349.90000000000003" y2="404.2308" stroke="#151515" stroke-width="1.3"/>
<line x1="345.8" y1="404.2308" x2="354.00000000000006" y2="404.2308" stroke="#151515" stroke-width="1.3"/>
<line x1="363.8" y1="414.8896" x2="363.8" y2="409.2006" stroke="#151515" stroke-width="1.3"/>
<line x1="359.7" y1="409.2006" x2="367.90000000000003" y2="409.2006" stroke="#151515" stroke-width="1.3"/>
<line x1="377.70000000000005" y1="422.57019999999994" x2="377.70000000000005" y2="413.568" stroke="#151515" stroke-width="1.3"/>
<line x1="373.6" y1="413.568" x2="381.80000000000007" y2="413.568" stroke="#151515" stroke-width="1.3"/>
<line x1="391.6" y1="430.70259999999996" x2="391.6" y2="422.0016" stroke="#151515" stroke-width="1.3"/>
<line x1="387.5" y1="422.0016" x2="395.70000000000005" y2="422.0016" stroke="#151515" stroke-width="1.3"/>
<line x1="405.5" y1="425.43159999999995" x2="405.5" y2="417.48359999999997" stroke="#151515" stroke-width="1.3"/>
<line x1="401.4" y1="417.48359999999997" x2="409.6" y2="417.48359999999997" stroke="#151515" stroke-width="1.3"/>
<line x1="419.40000000000003" y1="425.43159999999995" x2="419.40000000000003" y2="417.48359999999997" stroke="#151515" stroke-width="1.3"/>
<line x1="415.3" y1="417.48359999999997" x2="423.50000000000006" y2="417.48359999999997" stroke="#151515" stroke-width="1.3"/>
<line x1="433.3" y1="425.43159999999995" x2="433.3" y2="417.48359999999997" stroke="#151515" stroke-width="1.3"/>
<line x1="429.2" y1="417.48359999999997" x2="437.40000000000003" y2="417.48359999999997" stroke="#151515" stroke-width="1.3"/>
<line x1="447.20000000000005" y1="425.43159999999995" x2="447.20000000000005" y2="417.48359999999997" stroke="#151515" stroke-width="1.3"/>
<line x1="443.1" y1="417.48359999999997" x2="451.30000000000007" y2="417.48359999999997" stroke="#151515" stroke-width="1.3"/>
<line x1="461.1" y1="425.43159999999995" x2="461.1" y2="417.48359999999997" stroke="#151515" stroke-width="1.3"/>
<line x1="457.0" y1="417.48359999999997" x2="465.20000000000005" y2="417.48359999999997" stroke="#151515" stroke-width="1.3"/>
<polyline points="294.30,446.70 308.20,384.20 322.10,395.50 336.00,394.29 349.90,414.02 363.80,418.99 377.70,426.67 391.60,434.80 405.50,429.53 419.40,429.53 433.30,429.53 447.20,429.53 461.10,429.53" fill="none" stroke="#548c38" stroke-width="1.4" stroke-linejoin="miter"/>
<circle cx="308.20" cy="384.20" r="3.45" fill="none" stroke="#457a32" stroke-width="1.3"/>
<circle cx="322.10" cy="395.50" r="3.45" fill="none" stroke="#457a32" stroke-width="1.3"/>
<circle cx="336.00" cy="394.29" r="3.45" fill="none" stroke="#457a32" stroke-width="1.3"/>
<circle cx="349.90" cy="414.02" r="3.45" fill="none" stroke="#457a32" stroke-width="1.3"/>
<circle cx="363.80" cy="418.99" r="3.45" fill="none" stroke="#457a32" stroke-width="1.3"/>
<circle cx="377.70" cy="426.67" r="3.45" fill="none" stroke="#457a32" stroke-width="1.3"/>
<circle cx="391.60" cy="434.80" r="3.45" fill="none" stroke="#457a32" stroke-width="1.3"/>
<circle cx="405.50" cy="429.53" r="3.45" fill="none" stroke="#457a32" stroke-width="1.3"/>
<circle cx="419.40" cy="429.53" r="3.45" fill="none" stroke="#457a32" stroke-width="1.3"/>
<circle cx="433.30" cy="429.53" r="3.45" fill="none" stroke="#457a32" stroke-width="1.3"/>
<circle cx="447.20" cy="429.53" r="3.45" fill="none" stroke="#457a32" stroke-width="1.3"/>
<circle cx="461.10" cy="429.53" r="3.45" fill="none" stroke="#457a32" stroke-width="1.3"/>
<polyline points="294.30,446.70 308.20,374.56 322.10,363.27 336.00,368.69 349.90,368.09 363.80,363.57 377.70,362.36 391.60,357.54 405.50,356.34 419.40,356.34 433.30,356.34 447.20,356.34 461.10,356.34" fill="none" stroke="#203560" stroke-width="1.8" stroke-linejoin="miter"/>
<rect x="290.85" y="443.25" width="6.9" height="6.9" fill="#2d4d8a"/>
<rect x="304.75" y="371.11" width="6.9" height="6.9" fill="#2d4d8a"/>
<rect x="318.65" y="359.82" width="6.9" height="6.9" fill="#2d4d8a"/>
<rect x="332.55" y="365.24" width="6.9" height="6.9" fill="#2d4d8a"/>
<rect x="346.45" y="364.64" width="6.9" height="6.9" fill="#2d4d8a"/>
<rect x="360.35" y="360.12" width="6.9" height="6.9" fill="#2d4d8a"/>
<rect x="374.25" y="358.91" width="6.9" height="6.9" fill="#2d4d8a"/>
<rect x="388.15" y="354.09" width="6.9" height="6.9" fill="#2d4d8a"/>
<rect x="402.05" y="352.89" width="6.9" height="6.9" fill="#2d4d8a"/>
<rect x="415.95" y="352.89" width="6.9" height="6.9" fill="#2d4d8a"/>
<rect x="429.85" y="352.89" width="6.9" height="6.9" fill="#2d4d8a"/>
<rect x="443.75" y="352.89" width="6.9" height="6.9" fill="#2d4d8a"/>
<rect x="457.65" y="352.89" width="6.9" height="6.9" fill="#2d4d8a"/>
<line x1="377.70000000000005" y1="379.3818" x2="377.70000000000005" y2="385.5564" stroke="#151515" stroke-width="1.3"/>
<line x1="373.6" y1="379.3818" x2="381.80000000000007" y2="379.3818" stroke="#151515" stroke-width="1.3"/>
<line x1="391.6" y1="375.31559999999996" x2="391.6" y2="381.49019999999996" stroke="#151515" stroke-width="1.3"/>
<line x1="387.5" y1="375.31559999999996" x2="395.70000000000005" y2="375.31559999999996" stroke="#151515" stroke-width="1.3"/>
<polyline points="294.30,446.70 308.20,384.05 322.10,367.63 336.00,370.95 349.90,378.18 363.80,374.71 377.70,385.56 391.60,381.49 405.50,368.54 419.40,365.23 433.30,361.46 447.20,359.95 461.10,357.39" fill="none" stroke="#8c1636" stroke-width="2" stroke-linejoin="miter"/>
<rect x="291.05" y="443.45" width="6.50" height="6.50" fill="none" stroke="#a2264a" stroke-width="1.3"/>
<rect x="304.95" y="380.80" width="6.50" height="6.50" fill="none" stroke="#a2264a" stroke-width="1.3"/>
<rect x="318.85" y="364.38" width="6.50" height="6.50" fill="none" stroke="#a2264a" stroke-width="1.3"/>
<rect x="332.75" y="367.70" width="6.50" height="6.50" fill="none" stroke="#a2264a" stroke-width="1.3"/>
<rect x="346.65" y="374.93" width="6.50" height="6.50" fill="none" stroke="#a2264a" stroke-width="1.3"/>
<rect x="360.55" y="371.46" width="6.50" height="6.50" fill="none" stroke="#a2264a" stroke-width="1.3"/>
<rect x="374.45" y="382.31" width="6.50" height="6.50" fill="none" stroke="#a2264a" stroke-width="1.3"/>
<rect x="388.35" y="378.24" width="6.50" height="6.50" fill="none" stroke="#a2264a" stroke-width="1.3"/>
<rect x="402.25" y="365.29" width="6.50" height="6.50" fill="none" stroke="#a2264a" stroke-width="1.3"/>
<rect x="416.15" y="361.98" width="6.50" height="6.50" fill="none" stroke="#a2264a" stroke-width="1.3"/>
<rect x="430.05" y="358.21" width="6.50" height="6.50" fill="none" stroke="#a2264a" stroke-width="1.3"/>
<rect x="443.95" y="356.70" width="6.50" height="6.50" fill="none" stroke="#a2264a" stroke-width="1.3"/>
<rect x="457.85" y="354.14" width="6.50" height="6.50" fill="none" stroke="#a2264a" stroke-width="1.3"/>
</svg></div>
</body></html>
